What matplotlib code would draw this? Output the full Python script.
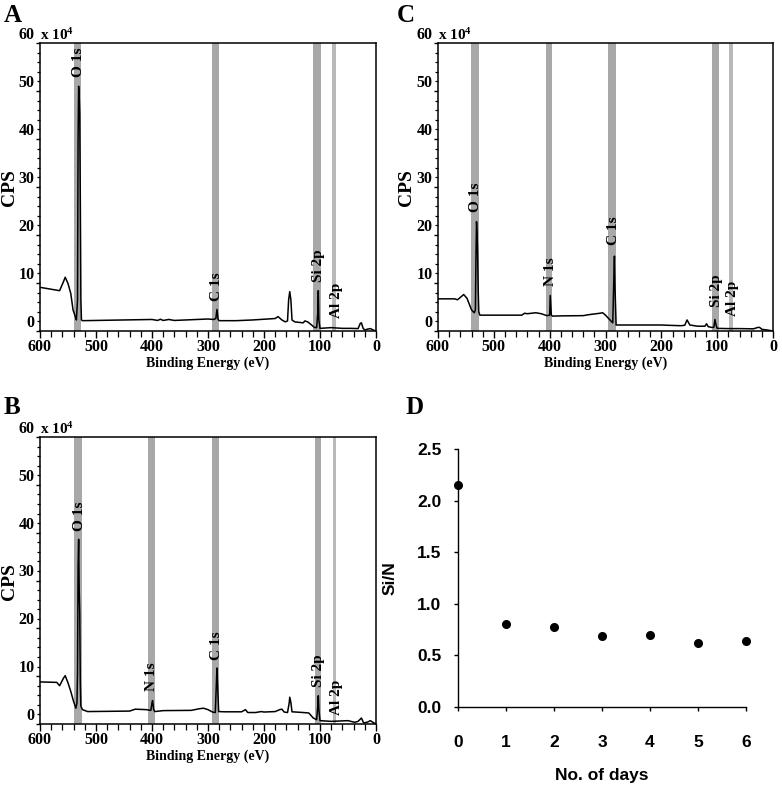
import matplotlib
matplotlib.use("Agg")
import matplotlib.pyplot as plt
from matplotlib.ticker import MultipleLocator

plt.rcParams['mathtext.fontset'] = 'custom'
plt.rcParams['mathtext.rm'] = 'Liberation Serif:bold'
plt.rcParams['mathtext.it'] = 'Liberation Serif:bold'
plt.rcParams['mathtext.bf'] = 'Liberation Serif:bold'

SERIF = ['Liberation Serif', 'DejaVu Serif']
SANS = ['Liberation Sans', 'DejaVu Sans']

# ---------------- Panel A spectrum (Binding energy eV, CPS x1e4) ----------------
energy_A = [600, 570, 565, 558, 555, 550, 545, 541, 537, 535, 533, 532, 531, 530, 529, 528, 527, 526, 524,
            400, 390, 385, 380, 370, 360, 300, 290, 286, 284, 282, 280, 250, 220, 180, 175, 168, 162,
            158, 156, 154, 152, 150, 145, 130, 127, 122, 115, 110, 106, 104, 103, 102, 100,
            80, 60, 45, 32, 28, 26, 23, 20, 15, 10, 5, 0]
cps_A = [9.1, 8.5, 8.4, 10.3, 11.2, 9.9, 7.8, 4.4, 3.0, 2.3, 6.5, 39.8, 51.0, 48.8, 45.3, 27.0, 6.5, 2.3, 2.15,
         2.4, 2.2, 2.45, 2.2, 2.4, 2.2, 2.5, 2.4, 2.6, 4.5, 2.4, 2.15, 2.15, 2.3, 2.6, 3.0, 2.3, 1.9,
         2.1, 6.5, 8.2, 6.5, 2.3, 1.9, 1.7, 2.1, 1.9, 1.25, 0.75, 0.7, 3.7, 8.4, 2.3, 0.55,
         0.7, 0.55, 0.55, 0.5, 1.6, 1.7, 0.55, 0.2, 0.4, 0.5, 0.2, 0.0]
bands_A = [(526, 540), (280, 293), (98, 112), (71, 78)]
labels_A = ["O 1s", "C 1s", "Si 2p", "Al 2p"]
label_x_A = [531, 284, 103, 70]
label_y_A = [55.9, 9.2, 13.7, 6.3]

# ---------------- Panel B spectrum ----------------
energy_B = [600, 570, 565, 558, 555, 550, 545, 540, 536, 534, 533, 532, 531, 530, 529, 528, 527, 524, 515,
            440, 430, 410, 402, 400, 399, 397, 395, 380, 330, 315, 308, 300, 292, 287, 285, 284, 283, 281,
            270, 240, 233, 229, 215, 205, 200, 190, 180, 172, 168, 164, 158, 155, 154, 152, 150,
            130, 120, 112, 106, 104, 103, 102, 100, 80, 50, 38, 32, 26, 22, 15, 10, 5, 0]
cps_B = [8.8, 8.7, 8.0, 9.6, 10.1, 8.6, 6.8, 4.7, 3.3, 4.4, 10.6, 32.9, 38.6, 28.0, 23.2, 8.6, 3.7, 3.0, 2.6,
         2.7, 3.1, 3.0, 2.85, 4.4, 4.9, 3.0, 2.6, 2.8, 2.85, 3.2, 3.3, 3.0, 2.5, 2.4, 8.6, 11.7, 8.6, 2.6,
         2.55, 2.55, 3.0, 2.4, 2.4, 2.6, 2.5, 2.55, 2.6, 3.0, 3.1, 2.5, 2.4, 4.4, 5.6, 4.5, 2.55,
         2.4, 2.3, 1.25, 0.9, 3.7, 5.9, 3.0, 0.7, 0.55, 0.7, 0.35, 0.55, 1.25, 0.2, 0.4, 0.7, 0.3, 0.0]
bands_B = [(525, 539), (394, 407), (280, 293), (98, 109), (71, 76)]
labels_B = ["O 1s", "N 1s", "C 1s", "Si 2p", "Al 2p"]
label_x_B = [530, 400, 285, 103, 71]
label_y_B = [43.5, 9.8, 16.4, 11.2, 5.6]

# ---------------- Panel C spectrum ----------------
energy_C = [600, 570, 565, 558, 554, 548, 540, 535, 533, 532, 531, 530, 529, 528, 527, 525,
            450, 445, 440, 425, 415, 405, 400, 399, 397, 395, 380, 340, 330, 310, 305, 300, 292, 287,
            285, 284, 283, 281, 270, 200, 190, 165, 158, 154, 152, 149, 135, 122, 119, 116, 110, 106,
            104, 102, 100, 80, 60, 35, 27, 24, 20, 10, 0]
cps_C = [6.7, 6.7, 6.5, 7.2, 7.6, 6.8, 4.4, 3.8, 4.4, 15.5, 22.8, 20.3, 15.8, 8.5, 4.0, 3.3,
         3.3, 3.7, 3.6, 3.8, 3.6, 3.2, 3.3, 7.4, 3.3, 3.1, 3.15, 3.2, 3.4, 3.7, 3.8, 3.3, 2.3, 1.7,
         11.3, 15.6, 9.2, 1.25, 1.25, 1.25, 1.2, 1.1, 1.2, 2.3, 1.9, 1.25, 1.0, 1.0, 1.5, 0.9, 0.75, 0.75,
         2.4, 1.25, 0.55, 0.5, 0.5, 0.45, 0.75, 0.75, 0.35, 0.2, 0.0]
bands_C = [(527, 541), (396, 407), (281, 295), (97, 109), (72, 78)]
labels_C = ["O 1s", "N 1s", "C 1s", "Si 2p", "Al 2p"]
label_x_C = [532, 399, 285, 102, 73]
label_y_C = [27.8, 12.3, 20.9, 8.5, 6.8]

# ---------------- Panel D ----------------
days = [0, 1, 2, 3, 4, 5, 6]
si_n = [2.15, 0.80, 0.78, 0.69, 0.70, 0.62, 0.64]

W, H = 782, 790
fig = plt.figure(figsize=(W / 100, H / 100), dpi=100)


def fr(x0, y_top, x1, y_bot):
    return [x0 / W, 1 - y_bot / H, (x1 - x0) / W, (y_bot - y_top) / H]


def spectrum(rect, energy, cps, bands, labels, lx, ly, letter, letter_xy, cps_xy):
    ax = fig.add_axes(rect)
    for i, (lo, hi) in enumerate(bands):
        col = '#b9b9b9' if i == len(bands) - 1 else '#a8a8a8'
        ax.axvspan(lo, hi, color=col, lw=0, zorder=1)
    ax.plot(energy, cps, color='black', lw=1.1, zorder=3)
    for t, x, y in zip(labels, lx, ly):
        ax.text(x, y, t, rotation=90, ha='center', va='center', fontsize=11,
                fontweight='bold', family=SERIF, zorder=4)
    ax.set_xlim(600, 0)
    ax.set_ylim(0, 60)
    ax.xaxis.set_major_locator(MultipleLocator(100))
    ax.xaxis.set_minor_locator(MultipleLocator(20))
    ax.yaxis.set_major_locator(MultipleLocator(10))
    ax.yaxis.set_minor_locator(MultipleLocator(2))
    ax.tick_params(axis='x', which='major', direction='out', length=5, width=1.0, pad=1)
    ax.tick_params(axis='x', which='minor', direction='out', length=4, width=0.9)
    ax.tick_params(axis='y', which='major', direction='out', length=3, width=1.0, pad=1)
    ax.tick_params(axis='y', which='minor', direction='out', length=2.5, width=0.9)
    ax.tick_params(top=False, right=False)
    for lab in ax.get_xticklabels() + ax.get_yticklabels():
        lab.set_family(SERIF)
        lab.set_fontweight('bold')
        lab.set_fontsize(11.5)
    for lab in ax.get_yticklabels():
        lab.set_va('bottom')
    for s in ax.spines.values():
        s.set_linewidth(1.1)
    fig.text(cps_xy[0] / W, 1 - cps_xy[1] / H, 'CPS', rotation=90, ha='center', va='center',
             family=SERIF, fontweight='bold', fontsize=14)
    ax.set_xlabel('Binding Energy (eV)', family=SERIF, fontweight='bold', fontsize=10, labelpad=1)
    ax.text(0.0, 1.0, r'x 10$^{4}$', transform=ax.transAxes, ha='left', va='bottom',
            fontsize=11, fontweight='bold', family=SERIF)
    fig.text(letter_xy[0] / W, 1 - letter_xy[1] / H, letter, ha='left', va='center',
             fontsize=18, fontweight='bold', family=SERIF)
    return ax


spectrum(fr(40, 43, 376, 331), energy_A, cps_A, bands_A, labels_A, label_x_A, label_y_A, 'A', (4, 15), (10, 188))
spectrum(fr(438, 43, 773, 331), energy_C, cps_C, bands_C, labels_C, label_x_C, label_y_C, 'C', (397, 15), (407, 188))
spectrum(fr(40, 437, 376, 724), energy_B, cps_B, bands_B, labels_B, label_x_B, label_y_B, 'B', (4, 408), (10, 582))

# Panel D
axd = fig.add_axes(fr(458, 449, 746, 707))
axd.plot(days, si_n, 'o', color='black', markersize=5.5, clip_on=False)
axd.set_xlim(0, 6)
axd.set_ylim(0, 2.5)
axd.set_xticks(days)
axd.set_yticks([0, 0.5, 1.0, 1.5, 2.0, 2.5])
axd.set_yticklabels(['0.0', '0.5', '1.0', '1.5', '2.0', '2.5'])
axd.spines['top'].set_visible(False)
axd.spines['right'].set_visible(False)
for s in ('left', 'bottom'):
    axd.spines[s].set_linewidth(1.0)
axd.tick_params(axis='x', direction='out', length=3, width=1.0, pad=17)
axd.tick_params(axis='y', direction='out', length=3, width=1.0, pad=9)
for lab in axd.get_xticklabels() + axd.get_yticklabels():
    lab.set_family(SANS)
    lab.set_fontweight('bold')
    lab.set_fontsize(12.5)
axd.set_xlabel('No. of days', family=SANS, fontweight='bold', fontsize=12.5, labelpad=13)
axd.set_ylabel('Si/N', family=SANS, fontweight='bold', fontsize=12.5, labelpad=14)
fig.text(405 / W, 1 - 407 / H, 'D', ha='left', va='center', fontsize=18, fontweight='bold', family=SERIF)

fig.savefig('out.png', dpi=100)
